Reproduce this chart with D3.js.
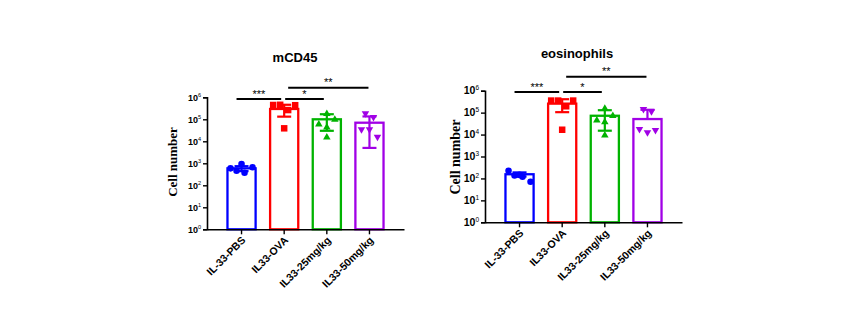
<!DOCTYPE html>
<html>
<head>
<meta charset="utf-8">
<script src="https://cdn.jsdelivr.net/npm/d3@7"></script>
<style>
  body { margin: 0; background: #fff; }
  svg { display: block; }
</style>
</head>
<body>
<svg id="chart" width="844" height="324"></svg>
<script>
// group names shared by both panels
const groups = ["IL-33-PBS", "IL33-OVA", "IL33-25mg/kg", "IL33-50mg/kg"];
const groupColors = ["#0000ff", "#ff0000", "#00b300", "#a100e6"];
const groupSymbols = ["circle", "square", "triUp", "triDown"];

const yTickValues = [1, 10, 100, 1000, 10000, 100000, 1000000];

// mCD45 panel
const mcd45Mean = [590, 295000, 100000, 70000];
const mcd45Sd = [150, 163000, 70000, 65000];
const mcd45Points = [
  [589, 457, 933, 372, 661],
  [447000, 457000, 263000, 437000, 38900],
  [186000, 63100, 102000, 45700, 16200],
  [174000, 117000, 32400, 32400, 14800]
];

// eosinophils panel
const eosMean = [155, 257000, 72000, 51000];
const eosSd = [33, 152000, 57000, 84000];
const eosPoints = [
  [224, 135, 145, 120, 71],
  [355000, 355000, 195000, 355000, 16600],
  [162000, 47900, 75900, 39800, 9800],
  [135000, 107000, 16600, 11700, 15100]
];

// significance brackets: [from, to, label, tier]
const mcd45Sig = [[0, 1, "***", 0], [1, 2, "*", 0], [1, 3, "**", 1]];
const eosSig = [[0, 1, "***", 0], [1, 2, "*", 0], [1, 3, "**", 1]];

// horizontal spread of the dots inside each bar (layout only)
const dotSpread = [
  [-11, -5, 0, 3, 11],
  [-11, -4, 4, 11, 0],
  [0, -8, 8, 0, 0],
  [-4, 4, -8, 0, 8]
];

const svg = d3.select("#chart");
svg.append("rect").attr("width", 844).attr("height", 324).attr("fill", "#fff");

const sansFont = "Liberation Sans, Arial, sans-serif";

function symbolPath(type, size) {
  const h = size / 2;
  if (type === "square") return `M${-h},${-h}H${h}V${h}H${-h}Z`;
  if (type === "triUp") return `M0,${-h - 0.5}L${h + 0.5},${h - 0.5}L${-h - 0.5},${h - 0.5}Z`;
  if (type === "triDown") return `M0,${h + 0.5}L${h + 0.5},${-h + 0.5}L${-h - 0.5},${-h + 0.5}Z`;
  return d3.symbol(d3.symbolCircle, size * size * 0.8)();
}

function drawPanel(cfg) {
  const g = svg.append("g");
  const x = d3.scaleBand()
    .domain(groups)
    .range([cfg.left, cfg.right])
    .paddingInner(0.34)
    .paddingOuter(0.48);
  const y = d3.scaleLog()
    .domain([1, 1e6])
    .range([cfg.bottom, cfg.top]);

  // title
  g.append("text")
    .attr("x", cfg.titleX)
    .attr("y", cfg.titleY)
    .attr("text-anchor", "middle")
    .attr("font-family", sansFont)
    .attr("font-weight", "bold")
    .attr("font-size", 13)
    .text(cfg.title);

  // bars
  g.selectAll("rect.bar")
    .data(cfg.mean)
    .join("rect")
    .attr("class", "bar")
    .attr("x", (d, i) => x(groups[i]))
    .attr("y", d => y(d))
    .attr("width", x.bandwidth())
    .attr("height", d => cfg.bottom - y(d))
    .attr("fill", "#fff")
    .attr("stroke", (d, i) => groupColors[i])
    .attr("stroke-width", 2.3);

  // mean ± SD whiskers; the lower arm is left out when it falls below zero
  cfg.mean.forEach((m, i) => {
    const cx = x(groups[i]) + x.bandwidth() / 2;
    const hi = m + cfg.sd[i];
    const lo = m - cfg.sd[i];
    const eg = g.append("g")
      .attr("stroke", groupColors[i])
      .attr("stroke-width", 2.2);
    eg.append("line")
      .attr("x1", cx).attr("x2", cx)
      .attr("y1", y(hi)).attr("y2", lo > 0 ? y(lo) : y(m));
    eg.append("line")
      .attr("x1", cx - 7).attr("x2", cx + 7)
      .attr("y1", y(hi)).attr("y2", y(hi));
    if (lo > 0) {
      eg.append("line")
        .attr("x1", cx - 7).attr("x2", cx + 7)
        .attr("y1", y(lo)).attr("y2", y(lo));
    }
  });

  // individual animals
  cfg.points.forEach((vals, i) => {
    const cx = x(groups[i]) + x.bandwidth() / 2;
    g.selectAll(null)
      .data(vals)
      .join("path")
      .attr("d", symbolPath(groupSymbols[i], 6.5))
      .attr("transform", (d, j) => `translate(${cx + dotSpread[i][j]},${y(d)})`)
      .attr("fill", groupColors[i]);
  });

  // y axis, decade labels as 10 with a raised exponent
  const yAxis = g.append("g")
    .attr("transform", `translate(${cfg.left},0)`)
    .call(d3.axisLeft(y).tickValues(yTickValues).tickSize(4).tickFormat(""));
  yAxis.select(".domain").attr("stroke-width", 1.6);
  yAxis.selectAll(".tick line").attr("stroke-width", 1.4);
  yTickValues.forEach(v => {
    const e = Math.round(Math.log10(v));
    const t = g.append("text")
      .attr("x", cfg.left - 6)
      .attr("y", y(v))
      .attr("dy", "0.36em")
      .attr("text-anchor", "end")
      .attr("font-family", sansFont)
      .attr("font-weight", "bold")
      .attr("font-size", cfg.tickFont);
    t.append("tspan").text("10");
    t.append("tspan")
      .attr("dy", -cfg.tickFont * 0.42)
      .attr("font-size", cfg.tickFont * 0.62)
      .attr("font-weight", "normal")
      .text(e);
  });

  // x axis
  const xAxis = g.append("g")
    .attr("transform", `translate(0,${cfg.bottom})`)
    .call(d3.axisBottom(x).tickSize(5).tickSizeOuter(0).tickFormat(""));
  xAxis.select(".domain").attr("stroke-width", 1.6);
  xAxis.selectAll(".tick line").attr("stroke-width", 1.4);
  groups.forEach(name => {
    const tx = x(name) + x.bandwidth() / 2 + 2;
    const ty = cfg.bottom + 9;
    g.append("text")
      .attr("transform", `translate(${tx},${ty}) rotate(-45)`)
      .attr("text-anchor", "end")
      .attr("dy", "0.35em")
      .attr("font-family", sansFont)
      .attr("font-weight", "bold")
      .attr("font-size", cfg.labelFont)
      .text(name);
  });

  // y title
  g.append("text")
    .attr("transform", `translate(${cfg.yTitleX},${cfg.yTitleY}) rotate(-90)`)
    .attr("text-anchor", "middle")
    .attr("font-family", "Liberation Serif, Times New Roman, serif")
    .attr("font-weight", "bold")
    .attr("font-size", cfg.yTitleFont)
    .text("Cell number");

  // significance brackets
  cfg.sig.forEach(([a, b, label, tier]) => {
    const xa = x(groups[a]) + x.bandwidth() / 2 + (a === 0 ? -5 : tier ? 4 : 1);
    const xb = x(groups[b]) + x.bandwidth() / 2 + (tier ? -1 : -3);
    const yy = tier ? cfg.sigY1 : cfg.sigY0;
    g.append("line")
      .attr("x1", xa).attr("x2", xb)
      .attr("y1", yy).attr("y2", yy)
      .attr("stroke", "#000")
      .attr("stroke-width", 2);
    g.append("text")
      .attr("x", (xa + xb) / 2)
      .attr("y", yy - 1.5)
      .attr("text-anchor", "middle")
      .attr("font-family", sansFont)
      .attr("font-size", 11)
      .text(label);
  });
}

drawPanel({
  title: "mCD45", titleX: 295, titleY: 62,
  left: 207, right: 404, top: 97.3, bottom: 229.3,
  mean: mcd45Mean, sd: mcd45Sd, points: mcd45Points, sig: mcd45Sig,
  sigY0: 99, sigY1: 87.7, tickFont: 9, labelFont: 10.5,
  yTitleX: 177, yTitleY: 162, yTitleFont: 13
});

drawPanel({
  title: "eosinophils", titleX: 577, titleY: 58,
  left: 485, right: 682, top: 90.7, bottom: 222.3,
  mean: eosMean, sd: eosSd, points: eosPoints, sig: eosSig,
  sigY0: 92, sigY1: 76.7, tickFont: 10.5, labelFont: 10.5,
  yTitleX: 460, yTitleY: 157, yTitleFont: 14
});
</script>
</body>
</html>
